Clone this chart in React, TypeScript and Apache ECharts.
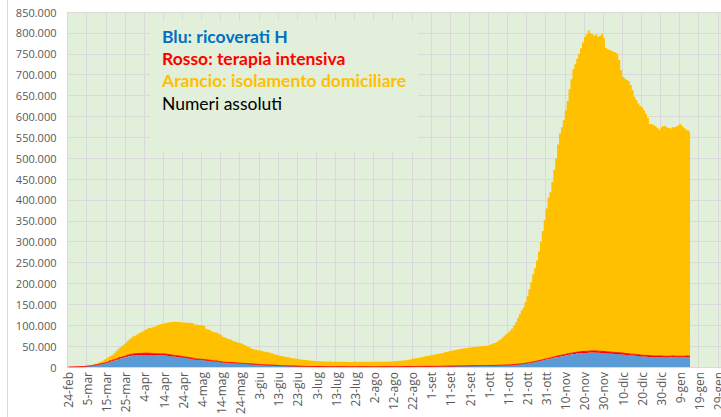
import React, { useEffect, useRef } from "react";
import * as echarts from "echarts";

// Italian month abbreviations for the daily category axis (24-feb-2020 .. 31-gen-2021)
const MONTHS_IT = ["gen", "feb", "mar", "apr", "mag", "giu", "lug", "ago", "set", "ott", "nov", "dic"];
const START_UTC = Date.UTC(2020, 1, 24);
const N_DAYS = 343;
const categories: string[] = Array.from({ length: N_DAYS }, (_, i) => {
  const d = new Date(START_UTC + i * 86400000);
  return `${d.getUTCDate()}-${MONTHS_IT[d.getUTCMonth()]}`;
});

const yTicks = { min: 0, max: 850000, interval: 50000 };

// Blu: ricoverati con sintomi (daily, 24-feb-2020 .. 14-gen-2021)
const ricoverati: number[] = [
  101, 114, 128, 248, 345, 401,
  639, 742, 1034, 1346, 1790, 2394, 2651, 3557, 4316, 5038, 5838, 6650, 7426, 8372, 9663, 11025, 12894, 14363, 15757, 16020, 17708, 19846, 20692, 21937, 23112, 24753, 26029, 26676, 27386, 27795, 28192,
  28403, 28540, 28741, 29010, 28949, 28976, 28718, 28485, 28399, 28242, 28144, 27847, 28023, 28011, 27643, 26893, 26367, 25786, 25033, 24906, 24134, 23805, 22871, 22068, 21533, 21372, 20353, 19723, 19210, 18149,
  17569, 17357, 17242, 16823, 16270, 15769, 15174, 14636, 13834, 13618, 13539, 12865, 12172, 11453, 10792, 10400, 10311, 10207, 9991, 9624, 9269, 8957, 8695, 8613, 8185, 7917, 7729, 7379, 7094, 6680, 6387,
  6099, 5916, 5742, 5301, 5002, 4864, 4729, 4581, 4320, 4131, 3893, 3747, 3301, 3194, 3021, 2867, 2624, 2474, 2379, 2275, 2138, 2100, 1922, 1814, 1489, 1403, 1284, 1169, 1115, 1090,
  1040, 1002, 974, 967, 961, 956, 929, 868, 830, 813, 778, 766, 773, 749, 780, 788, 786, 763, 743, 746, 738, 749, 732, 723, 719, 731, 723, 719, 713, 701, 705,
  714, 732, 746, 748, 770, 787, 793, 801, 803, 835, 844, 843, 843, 856, 871, 879, 907, 952, 985, 1000, 1045, 1058, 1058, 1098, 1131, 1178, 1210, 1251, 1263, 1279, 1380,
  1414, 1450, 1507, 1538, 1608, 1678, 1760, 1836, 1903, 1951, 2043, 2122, 2222, 2285, 2380, 2474, 2537, 2604, 2658, 2746, 2857, 2951, 3047, 3097, 3131, 3166, 3223, 3287, 3287, 3305,
  3337, 3386, 3416, 3487, 3625, 3782, 3925, 4086, 4257, 4336, 4519, 4821, 5076, 5470, 5796, 6178, 6699, 7131, 7676, 8454, 9057, 9694, 10549, 11287, 12006, 12997, 14078, 14981, 15964, 16994, 17966,
  18902, 19840, 20912, 22116, 23256, 24005, 24796, 25633, 26440, 27636, 28633, 29444, 29873, 30914, 31398, 32047, 32536, 33074, 33504, 33610, 33684, 34063, 34577, 34697, 34669, 34452, 34038, 33910, 33614, 33367,
  32879, 32536, 32194, 31772, 31653, 31200, 30964, 30635, 30298, 29940, 29088, 28808, 28430, 27882, 27765, 27342, 26897, 26329, 25876, 25364, 24970, 25156, 24709, 24154, 23932, 23834, 23734, 23662, 23990, 23662, 23317,
  23151, 22987, 23174, 23461, 23872, 23395, 23435, 23194, 23024, 23080, 23269, 23671, 23317, 23117,
];

// Rosso: terapia intensiva
const terapiaIntensiva: number[] = [
  26, 35, 36, 56, 64, 105,
  140, 166, 229, 295, 351, 462, 567, 650, 733, 877, 1028, 1153, 1328, 1518, 1672, 1851, 2060, 2257, 2498, 2655, 2857, 3009, 3204, 3396, 3489, 3612, 3732, 3856, 3906, 3981, 4023,
  4035, 4053, 4068, 3994, 3977, 3898, 3792, 3693, 3605, 3497, 3381, 3343, 3260, 3186, 3079, 2936, 2812, 2733, 2635, 2573, 2471, 2384, 2267, 2173, 2102, 2009, 1956, 1863, 1795, 1694,
  1578, 1539, 1501, 1479, 1427, 1333, 1311, 1168, 1034, 1027, 999, 952, 893, 855, 808, 775, 762, 749, 716, 676, 640, 595, 572, 553, 541, 521, 505, 489, 475, 450, 435,
  424, 408, 353, 338, 316, 293, 287, 283, 263, 249, 236, 227, 220, 209, 207, 178, 168, 163, 152, 148, 127, 115, 107, 103, 97, 96, 89, 77, 77, 87,
  87, 79, 77, 72, 71, 72, 69, 65, 67, 65, 65, 64, 65, 65, 57, 56, 53, 49, 48, 49, 48, 47, 43, 41, 40, 38, 41, 40, 39, 40, 41,
  42, 41, 42, 41, 42, 45, 45, 49, 55, 56, 58, 55, 58, 56, 58, 63, 65, 66, 68, 69, 69, 66, 69, 65, 69, 66, 69, 74, 79, 86, 94,
  107, 109, 120, 121, 133, 142, 143, 150, 164, 174, 182, 187, 197, 201, 207, 208, 215, 222, 232, 239, 244, 247, 239, 244, 246, 251, 254, 271, 280, 291,
  303, 297, 319, 323, 323, 337, 358, 387, 390, 420, 452, 514, 539, 586, 638, 705, 750, 797, 870, 926, 992, 1049, 1128, 1208, 1284, 1411, 1536, 1651, 1746, 1843, 1939,
  2022, 2225, 2292, 2391, 2515, 2634, 2749, 2849, 2971, 3081, 3170, 3230, 3306, 3422, 3492, 3612, 3670, 3712, 3748, 3758, 3801, 3810, 3816, 3848, 3846, 3782, 3753, 3762, 3753, 3744,
  3663, 3616, 3567, 3517, 3492, 3422, 3345, 3320, 3265, 3199, 3095, 3003, 2969, 2855, 2842, 2819, 2784, 2743, 2705, 2687, 2709, 2694, 2647, 2617, 2579, 2562, 2589, 2580, 2571, 2565, 2555,
  2569, 2586, 2579, 2569, 2579, 2587, 2589, 2579, 2587, 2587, 2597, 2587, 2571, 2558,
];

// Arancio: isolamento domiciliare
const isolamento: number[] = [
  94, 162, 221, 284, 412, 543,
  798, 927, 1000, 1065, 1155, 1060, 1843, 2180, 2936, 2599, 3724, 5036, 6201, 7860, 9268, 10197, 11108, 12090, 14935, 19185, 22116, 23783, 26522, 28697, 30920, 33648, 36653, 39533, 42588, 43752, 45420,
  48134, 50456, 52579, 55270, 58320, 60313, 61557, 63084, 64873, 66534, 68744, 71063, 72333, 73094, 74696, 76778, 77783, 79252, 80589, 80758, 81104, 81510, 81710, 82286, 82212, 82722, 83504, 83619, 83652, 81708,
  81796, 81808, 81436, 81678, 80770, 74426, 73139, 72157, 69974, 68679, 67950, 67449, 65392, 64132, 60470, 59012, 57278, 55597, 54422, 52452, 51051, 49770, 48485, 47428, 46574, 44504, 42732, 40118, 38606, 36561, 35253,
  34844, 33569, 33202, 32790, 31658, 30720, 30246, 29866, 28289, 27330, 25702, 25023, 23964, 22871, 22681, 21524, 21133, 20464, 19012, 18549, 18372, 17358, 16626, 16386, 16052, 15337, 15123, 15002, 14371, 14078,
  13757, 13540, 13191, 12818, 12563, 12431, 12305, 12246, 12022, 12012, 11851, 11751, 11655, 11642, 11567, 11524, 11483, 11489, 11457, 11414, 11462, 11546, 11629, 11692, 11806, 11847, 11817, 11683, 11725, 11741, 11711,
  11726, 11873, 11828, 11667, 11662, 11650, 11855, 12074, 12321, 12334, 12557, 12894, 13180, 13494, 13938, 14147, 14388, 14996, 15625, 16434, 17324, 18590, 19626, 19896, 20732, 21642, 22526, 23771, 24736, 25389, 26343,
  27394, 28367, 28472, 29535, 30337, 31173, 31886, 33722, 34700, 35378, 36962, 37403, 38113, 38927, 39870, 40479, 41346, 42253, 42599, 43129, 43882, 44520, 44914, 45359, 45823, 46183, 46523, 46742, 47133, 47667,
  49007, 50594, 52293, 53948, 56186, 58457, 61669, 65637, 70182, 74319, 77793, 81858, 86830, 93210, 100878, 110052, 118788, 127786, 134193, 146062, 159253, 175259, 191505, 209746, 223394, 240682, 260843, 282559, 308076, 332549, 359895,
  385076, 396077, 420031, 447841, 473347, 506361, 531455, 545518, 561589, 583283, 605197, 632326, 655821, 678664, 690110, 702341, 713794, 726214, 739748, 752632, 759515, 768127, 761607, 758455, 754485, 758766, 753209, 755328, 759633, 749889,
  727458, 724848, 723239, 721711, 719855, 718378, 715691, 701045, 677437, 661861, 658817, 655189, 653601, 644263, 632393, 616839, 609319, 601928, 596419, 593949, 587321, 578150, 568644, 555229, 555489, 552604, 550677, 545758, 540439, 547773, 551128,
  551280, 548427, 546247, 544970, 547549, 548018, 549976, 553227, 556389, 551333, 546134, 541742, 540112, 537325,
];

const legendLines = [
  { text: "Blu: ricoverati H", color: "#0070C0", bold: true },
  { text: "Rosso: terapia intensiva", color: "#FF0000", bold: true },
  { text: "Arancio: isolamento domiciliare", color: "#FFC000", bold: true },
  { text: "Numeri assoluti", color: "#000000", bold: false },
];

const fmtThousands = (v: number) => (v === 0 ? "0" : String(v).replace(/\B(?=(\d{3})+(?!\d))/g, "."));

export default function App() {
  const ref = useRef<HTMLDivElement>(null);
  useEffect(() => {
    if (!ref.current) return;
    const chart = echarts.init(ref.current, undefined, { renderer: "svg" });
    const areaSeries = (name: string, data: number[], color: string, lineWidth: number) => ({
      name,
      type: "line",
      stack: "tot",
      step: "middle",
      data,
      symbol: "none",
      showSymbol: false,
      lineStyle: { width: lineWidth, color },
      itemStyle: { color },
      areaStyle: { color, opacity: 1 },
    });
    chart.setOption({
      animation: false,
      grid: {
        left: 67.5,
        top: 12,
        width: 656,
        height: 355,
        show: true,
        backgroundColor: "#E2EFDA",
        borderWidth: 0,
      },
      xAxis: {
        type: "category",
        data: categories,
        boundaryGap: true,
        axisLine: { show: true, lineStyle: { color: "#D9D9D9", width: 1 } },
        axisTick: { show: false },
        axisLabel: {
          interval: 9,
          rotate: 90,
          color: "#595959",
          fontSize: 12,
          fontFamily: "Open Sans",
          margin: 5,
        },
        splitLine: { show: true, interval: 9, lineStyle: { color: "#D9D9D9", width: 1 } },
      },
      yAxis: {
        type: "value",
        min: yTicks.min,
        max: yTicks.max,
        interval: yTicks.interval,
        axisLine: { show: false },
        axisTick: { show: false },
        axisLabel: {
          formatter: (v: number) => fmtThousands(v),
          color: "#595959",
          fontSize: 11,
          fontFamily: "Open Sans",
          margin: 11,
        },
        splitLine: { show: true, lineStyle: { color: "#D9D9D9", width: 1 } },
      },
      series: [
        areaSeries("Blu: ricoverati H", ricoverati, "#5B9BD5", 0),
        areaSeries("Rosso: terapia intensiva", terapiaIntensiva, "#FF0000", 1),
        areaSeries("Arancio: isolamento domiciliare", isolamento, "#FFC000", 0),
      ],
      graphic: [
        {
          type: "line",
          shape: { x1: 7.5, y1: 0, x2: 7.5, y2: 417 },
          style: { stroke: "#D9D9D9", lineWidth: 1 },
          silent: true,
        },
        {
          type: "rect",
          shape: { x: 150, y: 20, width: 268, height: 132 },
          style: { fill: "#E2EFDA" },
          z: 10,
          silent: true,
        },
        ...legendLines.map((l, i) => ({
          type: "text",
          x: 162,
          y: 36 + i * 22.4,
          z: 11,
          silent: true,
          style: {
            text: l.text,
            fill: l.color,
            font: `${l.bold ? "bold " : ""}17.5px Lato`,
            textVerticalAlign: "middle",
            textAlign: "left",
          },
        })),
      ],
    });
    return () => chart.dispose();
  }, []);
  return (
    <div
      style={{
        position: "absolute",
        left: 0,
        top: 0,
        width: 721,
        height: 417,
        overflow: "hidden",
        background: "#ffffff",
      }}
    >
      <div ref={ref} style={{ width: 760, height: 417 }} />
    </div>
  );
}
